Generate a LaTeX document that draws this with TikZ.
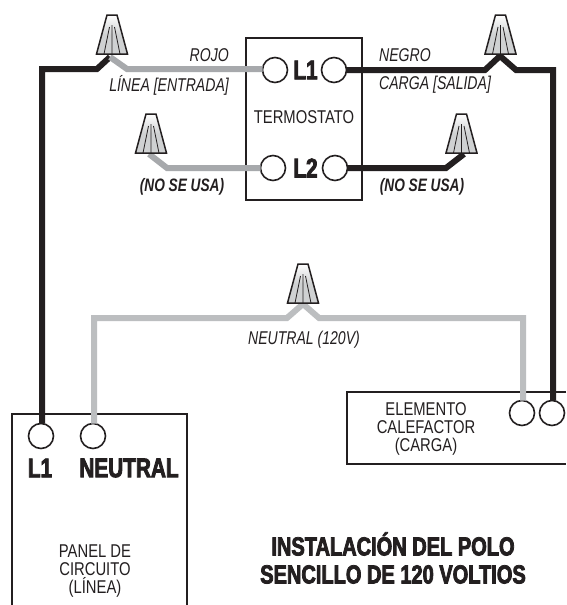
\documentclass[tikz,border=0pt]{standalone}
\usepackage{fontspec}
\setmainfont{Liberation Sans}[FakeStretch=0.8]
\newfontfamily\lblfont{Liberation Sans}[FakeStretch=0.76]
\newfontfamily\heavy{Liberation Sans}[UprightFont=* Bold,FakeStretch=0.77,FakeBold=3]
\usetikzlibrary{calc}
\definecolor{wireblack}{HTML}{231F20}
\definecolor{wiregray}{HTML}{A7A9AC}
\definecolor{wirelight}{HTML}{BCBEC0}
\definecolor{nutgray}{HTML}{CFD1D2}
\tikzset{
  box/.style={draw=wireblack,line width=1.5pt},
  terminal/.style={circle,draw=wireblack,line width=1.6pt,fill=white,minimum size=25pt,inner sep=0pt,outer sep=0pt},
  blackwire/.style={draw=wireblack,line width=6pt,line join=miter},
  graywire/.style={draw=wiregray,line width=6pt,line join=miter},
  lightwire/.style={draw=wirelight,line width=6pt,line join=miter},
  lbl/.style={inner sep=0pt,text=wireblack,font=\fontsize{18.5}{18}\selectfont\lblfont\itshape},
  plain/.style={inner sep=0pt,text=wireblack,align=center,font=\fontsize{18.5}{18.3}\selectfont},
  nolbl/.style={inner sep=0pt,text=wireblack,font=\fontsize{18}{18}\selectfont\lblfont\bfseries\itshape},
  big/.style={inner sep=0pt,text=wireblack,font=\fontsize{27}{27}\selectfont\heavy},
  titletext/.style={inner sep=0pt,text=wireblack,align=center,font=\fontsize{26}{28}\selectfont\heavy},
  nut/.pic={
    \path[top color=white,bottom color=nutgray,middle color=nutgray] (-15.5,0)--(-5,-39)--(5,-39)--(15.5,0)--cycle;
    \draw[draw=wireblack,line width=1.5pt,line join=miter] (-15.5,0)--(-5,-39)--(5,-39)--(15.5,0)--cycle;
    \draw[draw=wireblack,line width=.8pt] (-8,0)--(-2.5,-27) (0,0)--(0,-29) (8,0)--(2.5,-27);
  }
}
\begin{document}
\begin{tikzpicture}[x=1pt,y=-1pt]
\useasboundingbox (0,0) rectangle (566,605);
\fill[white] (0,0) rectangle (566,605);
% boxes
\draw[box] (246,38) rectangle (362,200);
\draw[box] (566,392) -- (347,392) -- (347,464) -- (566,464);
\draw[box] (12,605) -- (12,414) -- (187,414) -- (187,605);
% anchors
\coordinate (bendLa) at (42,69);
\coordinate (bendLb) at (97,69);
\coordinate (nutAin) at (110,57);
\coordinate (bendAg) at (127,69);
\coordinate (bendRa) at (485,70);
\coordinate (nutBin) at (500,56);
\coordinate (bendRb) at (516,70);
\coordinate (bendRc) at (553,70);
\coordinate (nutCin) at (149,154);
\coordinate (bendC) at (167,168);
\coordinate (nutDin) at (464,154);
\coordinate (bendD) at (446,168);
\coordinate (bendNa) at (94,318);
\coordinate (bendNb) at (287,318);
\coordinate (nutEin) at (303,304);
\coordinate (bendNc) at (319,318);
\coordinate (bendNd) at (523,318);
% terminals
\node[terminal] (tLa) at (275,70) {};
\node[terminal] (tLb) at (334,70) {};
\node[terminal] (tMa) at (273,168) {};
\node[terminal] (tMb) at (335,168) {};
\node[terminal] (hA) at (522,413) {};
\node[terminal] (hB) at (552,413) {};
\node[terminal] (pA) at (41,436) {};
\node[terminal] (pB) at (93,436) {};
% wires
\draw[blackwire] (pA.north -| bendLa) -- (bendLa) -- (bendLb) -- (nutAin);
\draw[graywire] (nutAin) -- (bendAg) -- (bendAg -| tLa.west);
\draw[graywire] (nutCin) -- (bendC) -- (tMa.west);
\draw[blackwire] (tLb.east) -- (bendRa) -- (nutBin) -- (bendRb) -- (bendRc) -- (bendRc |- hB.north);
\draw[blackwire] (tMb.east) -- (bendD) -- (nutDin);
\draw[lightwire] (pB.north -| bendNa) -- (bendNa) -- (bendNb) -- (nutEin) -- (bendNc) -- (bendNd) -- (bendNd |- hA.north);
% nuts
\pic at (112,54) {nut};
\pic at (151,153) {nut};
\pic at (500.5,54) {nut};
\pic at (461.5,153) {nut};
\pic at (303,303) {nut};
% text
\node[lbl,anchor=east] (rojo) at (229,55) {ROJO};
\node[lbl,anchor=east] (linea) at (229,85) {LÍNEA [ENTRADA]};
\node[lbl,anchor=west] (negro) at (379,55) {NEGRO};
\node[lbl,anchor=west] (carga) at (379,85) {CARGA [SALIDA]};
\node[nolbl] (nsa) at (182,187) {(NO SE USA)};
\node[nolbl] (nsb) at (422,187) {(NO SE USA)};
\node[lbl] (neu) at (304,340) {NEUTRAL (120V)};
\node[plain] (termo) at (304,117) {TERMOSTATO};
\node[big] (tl1) at (305.5,70) {L1};
\node[big] (tl2) at (305.5,168) {L2};
\node[big] (pl1) at (40,468) {L1};
\node[big] (pneu) at (129,468) {NEUTRAL};
\node[plain] (panel) at (95,571) {PANEL DE\\CIRCUITO\\(LÍNEA)};
\node[plain] (elem) at (426,429) {ELEMENTO\\CALEFACTOR\\(CARGA)};
\node[titletext] (title) at (393,558) {INSTALACIÓN DEL POLO\\SENCILLO DE 120 VOLTIOS};
\end{tikzpicture}
\end{document}
